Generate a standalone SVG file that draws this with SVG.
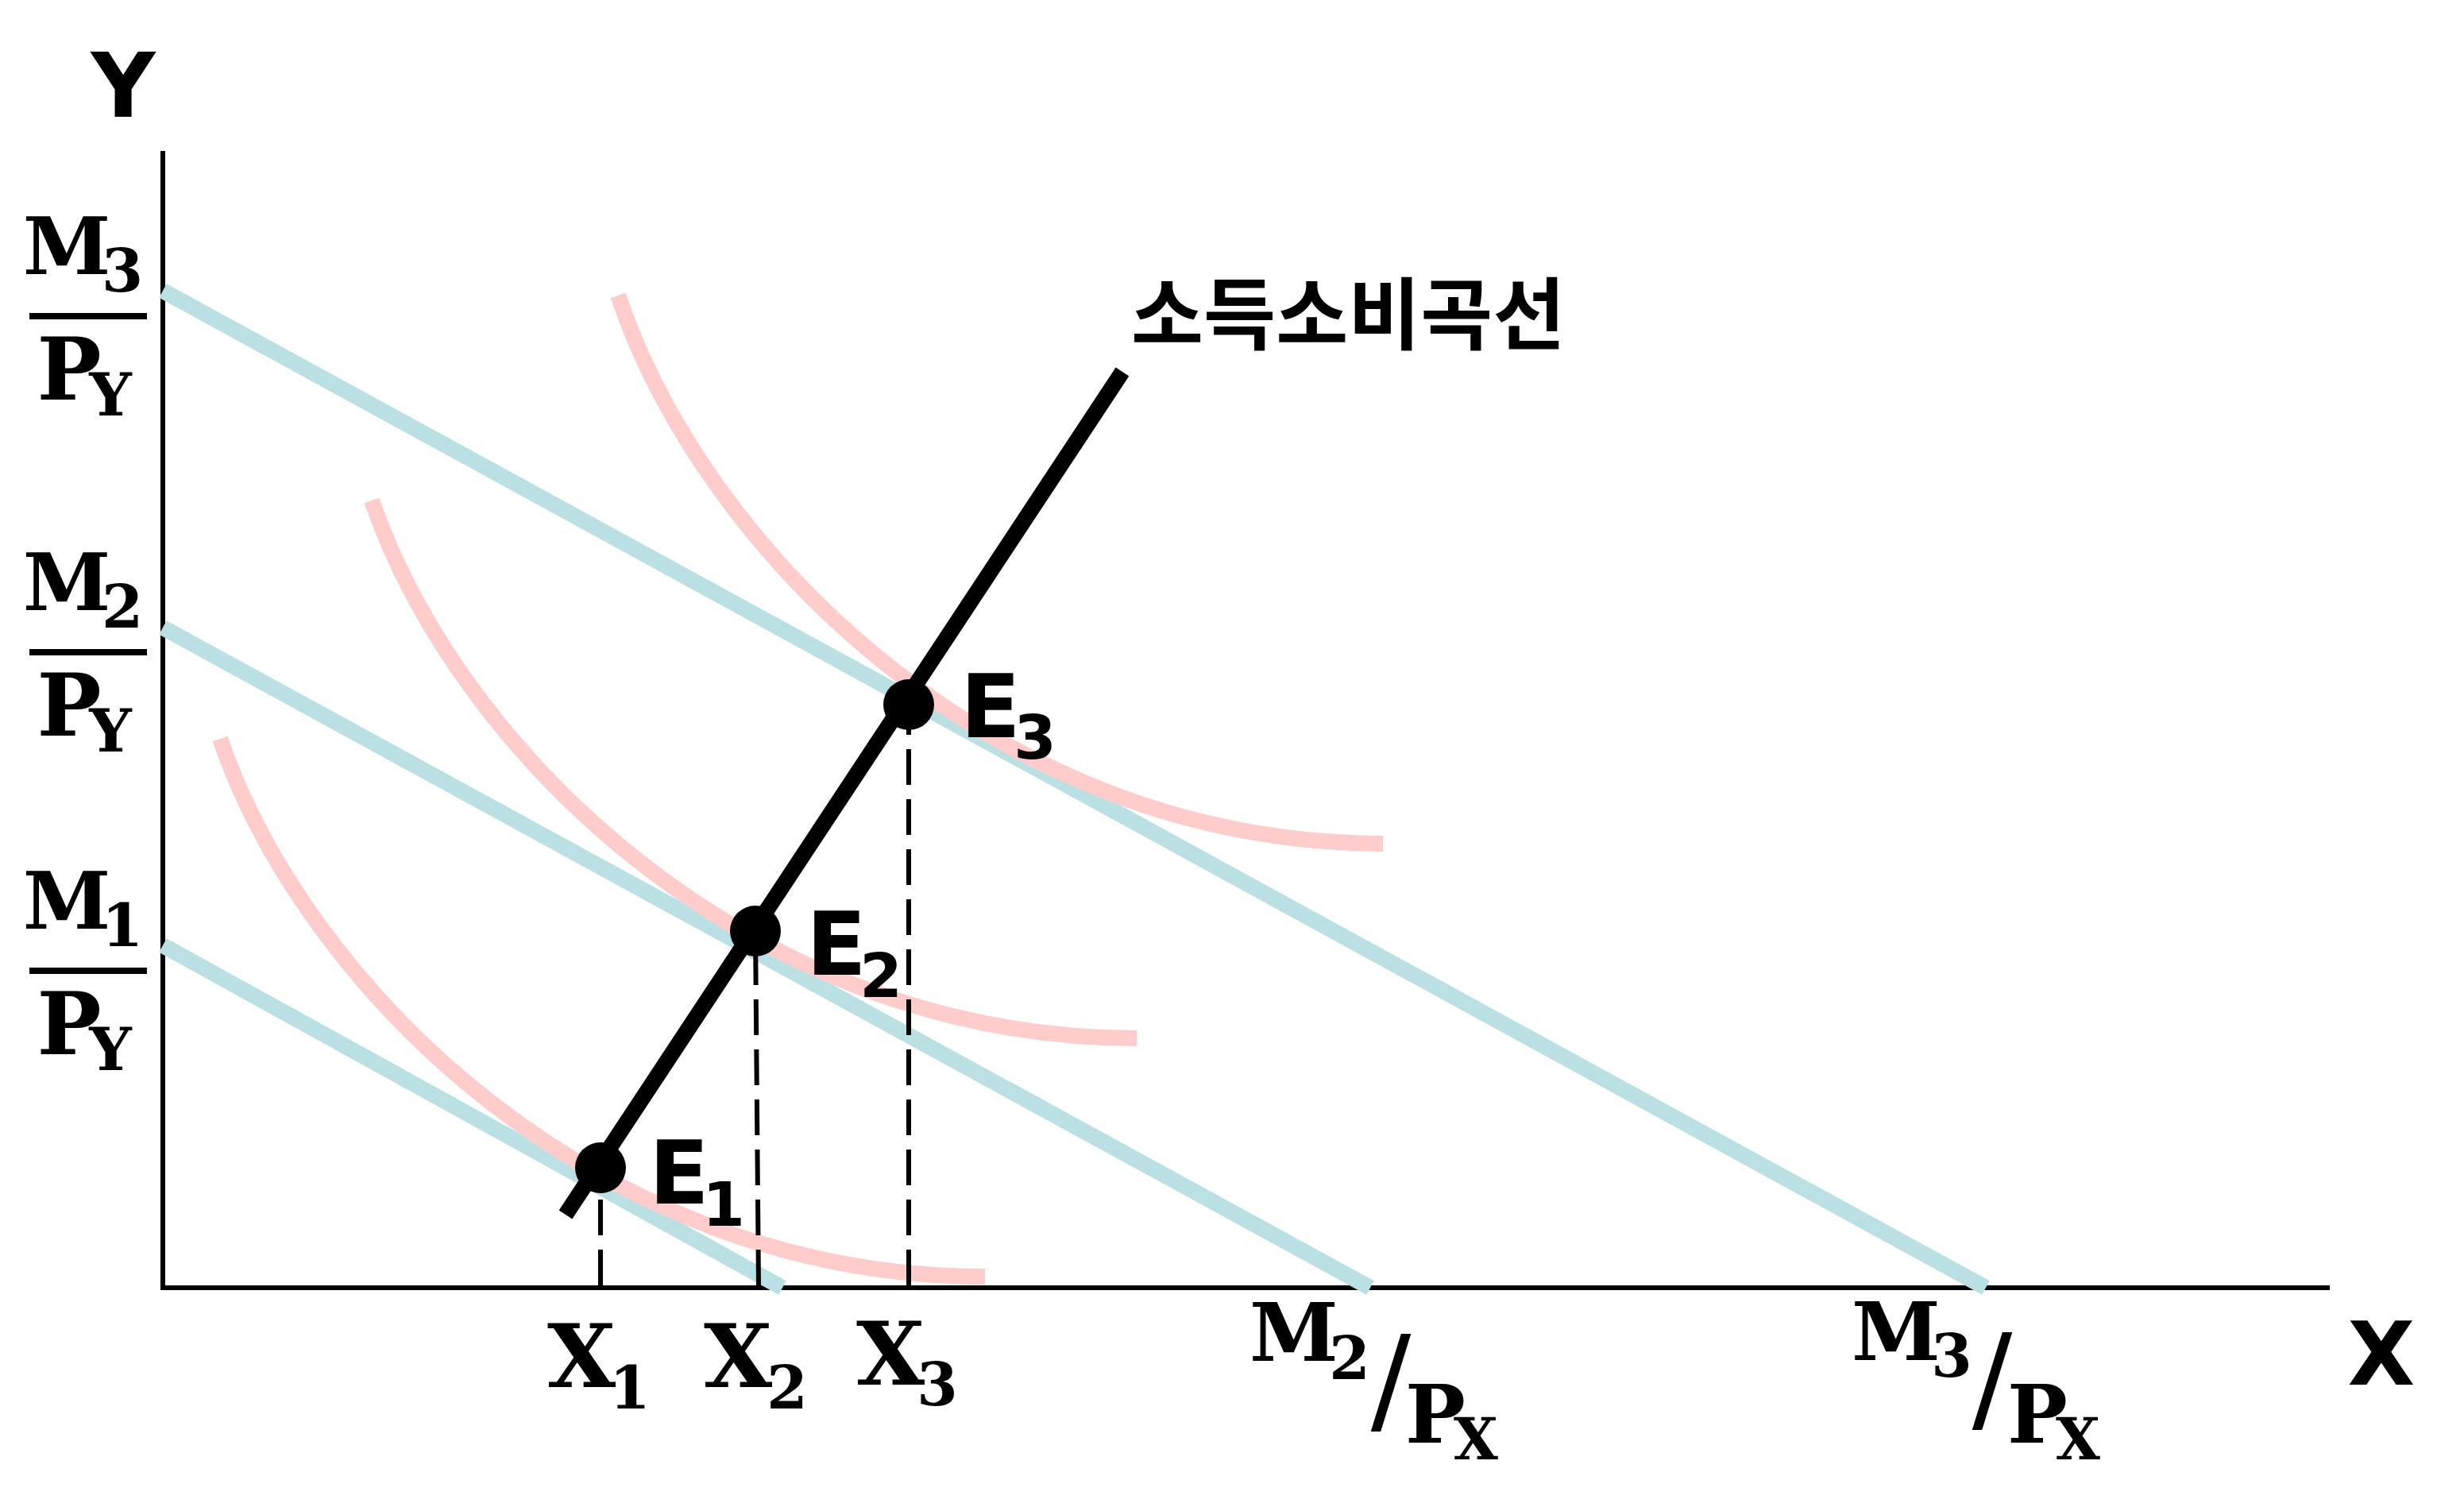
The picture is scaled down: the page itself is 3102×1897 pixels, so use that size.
<svg xmlns="http://www.w3.org/2000/svg" width="3102" height="1897" viewBox="0 0 3102 1897">
<style>
.axis{stroke:#000;stroke-width:6;fill:none}
.blue{stroke:#BBE0E3;stroke-width:20;fill:none}
.pink{stroke:#FFCCCC;stroke-width:20;fill:none}
.icc{stroke:#000;stroke-width:20;fill:none}
.dash{stroke:#000;stroke-width:6;stroke-dasharray:45 18;fill:none}
.frac{stroke:#000;stroke-width:8}
.serif{font-family:"DejaVu Serif","Liberation Serif",serif;font-weight:bold;text-anchor:middle}
.sans{font-family:"DejaVu Sans","Liberation Sans",sans-serif;font-weight:bold;text-anchor:middle}
.kr{font-family:"Noto Sans CJK KR","Noto Sans",sans-serif;font-weight:bold}
.slash{font-family:"DejaVu Sans","Liberation Sans",sans-serif;font-weight:normal}
.dot{fill:#000}
</style>
<rect width="3102" height="1897" fill="#fff"/>
<g id="axes">
<line class="axis" x1="205" y1="190" x2="205" y2="1624"/>
<line class="axis" x1="202" y1="1621" x2="2933" y2="1621"/>
</g>
<g id="connectors">
<line class="blue" x1="205" y1="1190" x2="985" y2="1621"/>
<line class="blue" x1="205" y1="790" x2="1725" y2="1621"/>
<line class="blue" x1="205" y1="366" x2="2500" y2="1621"/>
<path class="pink" d="M277,930 C385,1245 753,1607 1240,1607"/>
<path class="pink" d="M468,630 C576,945 944,1307 1431,1307"/>
<path class="pink" d="M778,372 C886,693 1254,1062 1741,1062"/>
<line class="icc" x1="712" y1="1529" x2="1413" y2="468"/>
<path class="dash" d="M756,1618 V1470"/>
<path class="dash" d="M955,1618 L951,1172"/>
<path class="dash" d="M1144,1618 V887"/>
</g>
<g id="node-E1">
<circle class="dot" cx="756" cy="1470" r="32"/>
<text class="sans" x="855" y="1515" font-size="111">E<tspan x="911" y="1543" font-size="77">1</tspan></text>
</g>
<g id="node-E2">
<circle class="dot" cx="951" cy="1172" r="32"/>
<text class="sans" x="1053" y="1227" font-size="111">E<tspan x="1109" y="1255" font-size="77">2</tspan></text>
</g>
<g id="node-E3">
<circle class="dot" cx="1144" cy="887" r="32"/>
<text class="sans" x="1247" y="928" font-size="111">E<tspan x="1303" y="955" font-size="77">3</tspan></text>
</g>
<g id="label-icc">
<text class="kr" x="1424" y="432" font-size="99">소득소비곡선</text>
</g>
<g id="label-axis-y">
<text class="sans" x="155" y="147" font-size="112">Y</text>
</g>
<g id="label-axis-x">
<text class="sans" x="2998" y="1743" font-size="110">X</text>
</g>
<g id="label-M3PY">
<text class="serif" x="84" y="345" font-size="100">M<tspan x="154" y="367" font-size="75">3</tspan></text>
<line class="frac" x1="37" y1="398" x2="185" y2="398"/>
<text class="serif" x="87" y="503" font-size="108">P<tspan x="139" y="523" font-size="75">Y</tspan></text>
</g>
<g id="label-M2PY">
<text class="serif" x="84" y="768" font-size="100">M<tspan x="154" y="790" font-size="75">2</tspan></text>
<line class="frac" x1="37" y1="821" x2="185" y2="821"/>
<text class="serif" x="87" y="926" font-size="108">P<tspan x="139" y="946" font-size="75">Y</tspan></text>
</g>
<g id="label-M1PY">
<text class="serif" x="84" y="1169" font-size="100">M<tspan x="154" y="1191" font-size="75">1</tspan></text>
<line class="frac" x1="37" y1="1222" x2="185" y2="1222"/>
<text class="serif" x="87" y="1327" font-size="108">P<tspan x="139" y="1347" font-size="75">Y</tspan></text>
</g>
<g id="label-X1">
<text class="serif" x="732" y="1746" font-size="111">X<tspan x="793" y="1773" font-size="74">1</tspan></text>
</g>
<g id="label-X2">
<text class="serif" x="929" y="1746" font-size="111">X<tspan x="991" y="1773" font-size="74">2</tspan></text>
</g>
<g id="label-X3">
<text class="serif" x="1121" y="1743" font-size="111">X<tspan x="1180" y="1769" font-size="74">3</tspan></text>
</g>
<g id="label-M2PX">
<text class="serif" x="1629" y="1713" font-size="101">M<tspan x="1699" y="1736" font-size="74">2</tspan><tspan class="slash" x="1751" y="1788" font-size="150">/</tspan><tspan x="1807" y="1816">P</tspan><tspan x="1858" y="1837" font-size="72">X</tspan></text>
</g>
<g id="label-M3PX">
<text class="serif" x="2387" y="1712" font-size="101">M<tspan x="2457" y="1733" font-size="74">3</tspan><tspan class="slash" x="2508" y="1786" font-size="150">/</tspan><tspan x="2565" y="1816">P</tspan><tspan x="2616" y="1837" font-size="72">X</tspan></text>
</g>
</svg>
